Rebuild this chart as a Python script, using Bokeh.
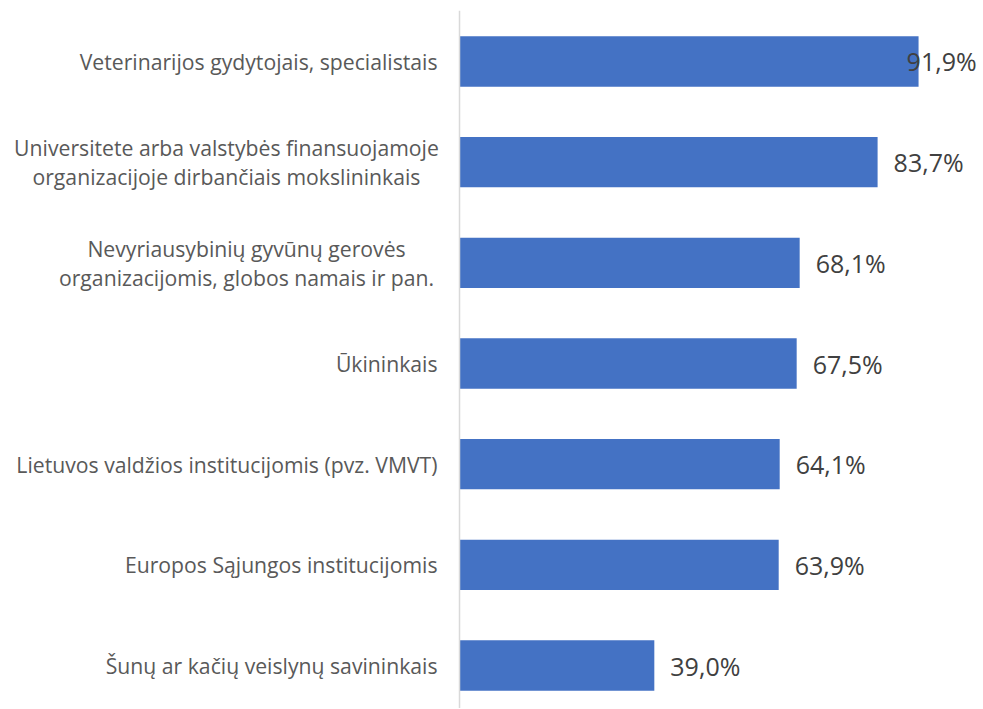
import numpy as np
from bokeh.plotting import figure
from bokeh.models import ColumnDataSource, Range1d, Span
from bokeh.core.properties import value
from bokeh.embed import file_html
from bokeh.resources import INLINE

# Data (top to bottom)
categories = [
    "Veterinarijos gydytojais, specialistais",
    "Universitete arba valstybės finansuojamoje\norganizacijoje dirbančiais mokslininkais",
    "Nevyriausybinių gyvūnų gerovės\norganizacijomis, globos namais ir pan.",
    "Ūkininkais",
    "Lietuvos valdžios institucijomis (pvz. VMVT)",
    "Europos Sąjungos institucijomis",
    "Šunų ar kačių veislynų savininkais",
]
values = [91.9, 83.7, 68.1, 67.5, 64.1, 63.9, 39.0]
labels = ["91,9%", "83,7%", "68,1%", "67,5%", "64,1%", "63,9%", "39,0%"]

FONT = "Open Sans"
CAT_SIZE = 21.2
CHAR_W = 10.05      # approx. average glyph width (px) at CAT_SIZE
STANDOFF = 22       # gap between category labels and the axis line

n = len(categories)
ypos = list(range(n - 1, -1, -1))
label_x = list(np.minimum(np.array(values), 86.3))

bars = ColumnDataSource(dict(y=ypos, v=values, lab=labels, lx=label_x))

single = [(c, y) for c, y in zip(categories, ypos) if "\n" not in c]
multi = [(c, y) for c, y in zip(categories, ypos) if "\n" in c]
single_src = ColumnDataSource(dict(t=[c for c, _ in single], y=[y for _, y in single],
                                   x=[0] * len(single)))
multi_src = ColumnDataSource(dict(
    t=[c for c, _ in multi], y=[y for _, y in multi], x=[0] * len(multi),
    xo=[-(STANDOFF + max(len(s) for s in c.split("\n")) * CHAR_W / 2) for c, _ in multi]))

p = figure(width=982, height=708, output_backend="svg", toolbar_location=None,
           x_range=Range1d(-91.89, 104.70), y_range=Range1d(-0.427, 6.5066),
           min_border_left=0, min_border_right=0, min_border_top=10, min_border_bottom=0)
p.axis.visible = False
p.grid.visible = False
p.outline_line_color = None

p.add_layout(Span(location=0, dimension="height", line_color="#D9D9D9", line_width=1.5))

p.hbar(y="y", left=0, right="v", height=0.5, source=bars,
       fill_color="#4472C4", line_color=None)

p.text(x="lx", y="y", text="lab", source=bars, x_offset=16,
       text_align="left", text_baseline="middle",
       text_font=value(FONT), text_font_size="25px", text_color="#404040")

p.text(x="x", y="y", text="t", source=single_src, x_offset=-STANDOFF,
       text_align="right", text_baseline="middle",
       text_font=value(FONT), text_font_size=f"{CAT_SIZE}px", text_color="#595959")

p.text(x="x", y="y", text="t", source=multi_src, x_offset="xo",
       text_align="center", text_baseline="middle", text_line_height=1.0,
       text_font=value(FONT), text_font_size=f"{CAT_SIZE}px", text_color="#595959")

open("out.html", "w").write(file_html(p, INLINE))
